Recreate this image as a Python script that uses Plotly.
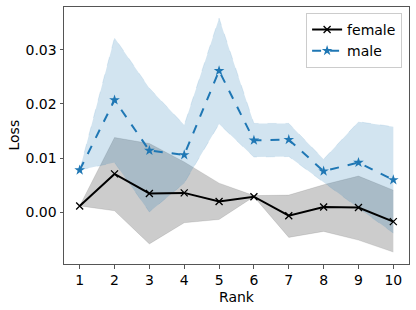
import plotly.graph_objects as go

ranks = [1, 2, 3, 4, 5, 6, 7, 8, 9, 10]

female_mean = [0.0012, 0.0071, 0.0035, 0.0036, 0.0020, 0.0029, -0.0006, 0.0010, 0.0009, -0.0017]
female_upper = [0.0012, 0.0138, 0.0127, 0.0093, 0.0054, 0.0031, 0.0032, 0.0051, 0.0067, 0.0041]
female_lower = [0.0012, 0.0003, -0.0058, -0.0019, -0.0013, 0.0029, -0.0046, -0.0035, -0.0051, -0.0073]

male_mean = [0.0078, 0.0207, 0.0114, 0.0106, 0.0261, 0.0133, 0.0134, 0.0076, 0.0092, 0.0060]
male_upper = [0.0078, 0.0322, 0.0229, 0.0161, 0.0358, 0.0164, 0.0164, 0.0098, 0.0167, 0.0158]
male_lower = [0.0078, 0.0092, 0.0001, 0.0054, 0.0163, 0.0102, 0.0103, 0.0055, 0.0008, -0.0038]

y_ticks = [0.00, 0.01, 0.02, 0.03]

BLUE = "#1f77b4"
fig = go.Figure()

# female band
fig.add_trace(go.Scatter(x=ranks, y=female_lower, mode="lines",
                         line=dict(color="rgba(0,0,0,0.12)", width=0.8),
                         showlegend=False, hoverinfo="skip"))
fig.add_trace(go.Scatter(x=ranks, y=female_upper, mode="lines", fill="tonexty",
                         fillcolor="rgba(0,0,0,0.2)",
                         line=dict(color="rgba(0,0,0,0.12)", width=0.8),
                         showlegend=False, hoverinfo="skip"))
# male band
fig.add_trace(go.Scatter(x=ranks, y=male_lower, mode="lines",
                         line=dict(color="rgba(31,119,180,0.15)", width=0.8, dash="dash"),
                         showlegend=False, hoverinfo="skip"))
fig.add_trace(go.Scatter(x=ranks, y=male_upper, mode="lines", fill="tonexty",
                         fillcolor="rgba(31,119,180,0.2)",
                         line=dict(color="rgba(31,119,180,0.15)", width=0.8, dash="dash"),
                         showlegend=False, hoverinfo="skip"))

fig.add_trace(go.Scatter(x=ranks, y=female_mean, mode="lines+markers", name="female",
                         line=dict(color="black", width=2),
                         marker=dict(symbol="x-thin", size=7, color="black",
                                     line=dict(color="black", width=1.3))))
fig.add_trace(go.Scatter(x=ranks, y=male_mean, mode="lines+markers", name="male",
                         line=dict(color=BLUE, width=2, dash="dash"),
                         marker=dict(symbol="star", size=8, color=BLUE)))

axis_common = dict(showline=True, linecolor="#555555", linewidth=1, mirror=True,
                   showgrid=False, zeroline=False, ticks="outside", ticklen=3.5,
                   tickcolor="#555555", automargin=False,
                   tickfont=dict(family="DejaVu Sans", size=14, color="black"))

fig.update_layout(
    width=416, height=310,
    margin=dict(l=64, r=7, t=7, b=46),
    plot_bgcolor="white", paper_bgcolor="white",
    font=dict(family="DejaVu Sans", size=14, color="black"),
    xaxis=dict(range=[0.55, 10.45], tickvals=ranks, ticktext=[str(r) for r in ranks],
               **axis_common),
    yaxis=dict(range=[-0.0095, 0.03785], tickvals=y_ticks, ticktext=[f"{v:.2f}" for v in y_ticks],
               **axis_common),
    legend=dict(x=0.98, y=0.977, xanchor="right", yanchor="top", traceorder="normal",
                bgcolor="rgba(255,255,255,0.8)", bordercolor="#cccccc", borderwidth=1,
                font=dict(size=14), tracegroupgap=0, itemwidth=30),
    annotations=[
        dict(text="Rank", xref="paper", yref="paper", x=0.5, y=0, yshift=-33,
             xanchor="center", yanchor="middle", showarrow=False, font=dict(size=14)),
        dict(text="Loss", xref="paper", yref="paper", x=0, y=0.5, xshift=-51,
             xanchor="center", yanchor="middle", textangle=-90, showarrow=False,
             font=dict(size=14)),
    ],
)

fig.write_html("out.html", config={"displayModeBar": False},
               post_script="document.body.style.margin='0';")
